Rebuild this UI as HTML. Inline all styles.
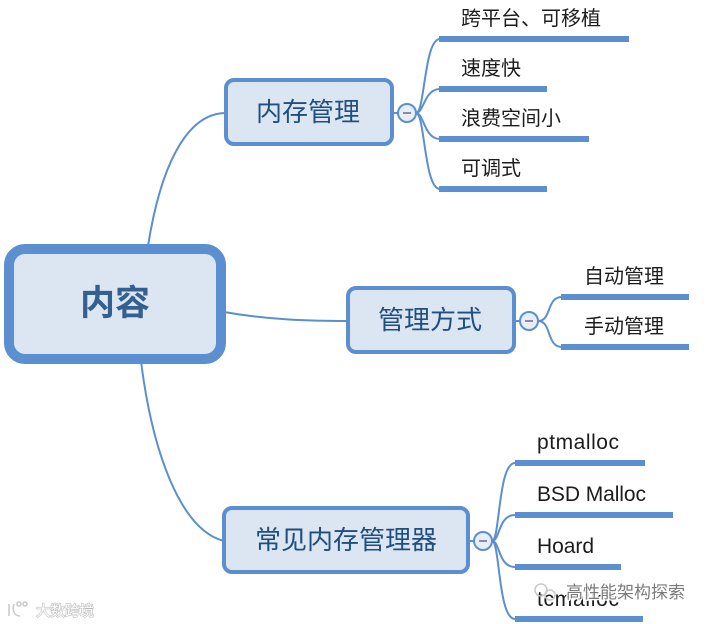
<!DOCTYPE html>
<html><head><meta charset="utf-8">
<style>
html,body{margin:0;padding:0;background:#fff}
body{width:708px;height:624px;overflow:hidden;position:relative}
svg{position:absolute;left:0;top:0}
text{font-family:"Liberation Sans","Noto Sans CJK SC",sans-serif}
.l{font-size:20px;fill:#1c1c1c}
.e{font-size:21px;fill:#1c1c1c}
.m{font-size:26px;fill:#1f4f80;text-anchor:middle}
</style></head><body>
<svg width="708" height="624" viewBox="0 0 708 624">
<g fill="none" stroke="#5b8fcf" stroke-width="2">
<path d="M148 246C160 170 185 113 226 113"/>
<path d="M224 312C270 320 310 321 348 321"/>
<path d="M141 361C152 450 180 530 224 541"/>
<path d="M392 113H398M416 113C425 113 424 39 440 39"/>
<path d="M416 113C424 113 424 89 440 89"/>
<path d="M416 113C424 113 424 139 440 139"/>
<path d="M416 113C425 113 424 189 440 189"/>
<path d="M514 321H520M538 321C552 321 546 297 562 297"/>
<path d="M538 321C552 321 546 347 562 347"/>
<path d="M468 541H474M492 541C500 541 498 463 515 463"/>
<path d="M492 541C500 541 498 515 515 515"/>
<path d="M492 541C500 541 498 567 515 567"/>
<path d="M492 541C500 541 498 619 515 619"/>
</g>
<g fill="#5b8fcf">
<rect x="439" y="36" width="190" height="6"/>
<rect x="439" y="86" width="108" height="6"/>
<rect x="439" y="136" width="150" height="6"/>
<rect x="439" y="186" width="108" height="6"/>
<rect x="561" y="294" width="128" height="6"/>
<rect x="561" y="344" width="128" height="6"/>
<rect x="515" y="460" width="130" height="6"/>
<rect x="515" y="512" width="158" height="6"/>
<rect x="515" y="564" width="106" height="6"/>
<rect x="515" y="616" width="128" height="6"/>
</g>
<g fill="#dce6f2" stroke="#5b8fcf">
<rect x="9" y="249" width="212" height="110" rx="16" stroke-width="10"/>
<rect x="226" y="80" width="166" height="64" rx="8" stroke-width="4"/>
<rect x="348" y="288" width="166" height="64" rx="8" stroke-width="4"/>
<rect x="224" y="508" width="244" height="64" rx="8" stroke-width="4"/>
</g>
<g fill="#e8eef6" stroke="#5b8fcf" stroke-width="2">
<circle cx="407" cy="113" r="9"/>
<circle cx="529" cy="321" r="9"/>
<circle cx="483" cy="541" r="9"/>
</g>
<g stroke="#8a8ab0" stroke-width="2">
<path d="M403 113H411M525 321H533M479 541H487"/>
</g>
<text x="115" y="315" font-size="35" font-weight="bold" fill="#33608f" text-anchor="middle">内容</text>
<text x="308" y="121" class="m">内存管理</text>
<text x="430" y="329" class="m">管理方式</text>
<text x="346" y="549" class="m">常见内存管理器</text>
<text x="461" y="25" class="l">跨平台、可移植</text>
<text x="461" y="75" class="l">速度快</text>
<text x="461" y="125" class="l">浪费空间小</text>
<text x="461" y="175" class="l">可调式</text>
<text x="584" y="283" class="l">自动管理</text>
<text x="584" y="333" class="l">手动管理</text>
<text x="537" y="449" class="e" textLength="82">ptmalloc</text>
<text x="537" y="501" class="e" textLength="109">BSD Malloc</text>
<text x="537" y="553" class="e" textLength="57">Hoard</text>
<text x="537" y="606" class="e" textLength="82">tcmalloc</text>
<g fill="none" stroke="#c9c9c9" stroke-width="1.5">
<circle cx="541" cy="590" r="6"/><circle cx="550" cy="595" r="5"/>
<path d="M9 604V616M14 604C12 610 14 616 20 616"/><circle cx="19" cy="604" r="2"/><circle cx="25" cy="604" r="2"/>
</g>
<text x="566" y="598" font-size="17" fill="#7a7a7a" stroke="#fff" stroke-width="2.5" style="paint-order:stroke">高性能架构探索</text>
<text x="36" y="616" font-size="14.5" fill="#fff" stroke="#bdbdbd" stroke-width="1.2" style="paint-order:stroke">大数跨境</text>
</svg>
</body></html>
